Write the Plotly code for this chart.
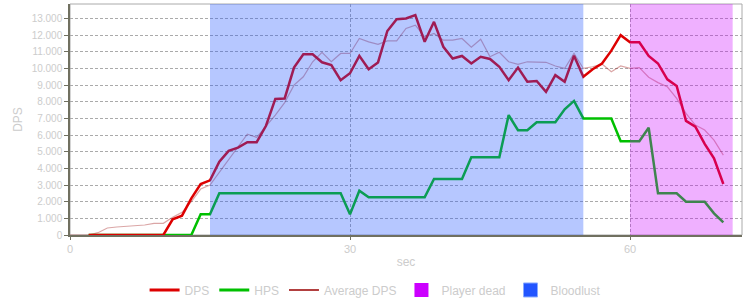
import plotly.graph_objects as go

# time axis (seconds)
t_avg = list(range(0, 71))
t_main = list(range(2, 71))

dps = [0, 0, 0, 0, 0, 0, 0, 0, 0,
       940, 1160, 2200, 3060, 3280, 4400, 5050, 5250, 5570, 5570,
       6560, 8170, 8200, 10050, 10850, 10850, 10370, 10200, 9290, 9710,
       10760, 9950, 10360, 12250, 12950, 13000, 13200, 11600, 12800, 11300,
       10600, 10750, 10300, 10700, 10570, 10100, 9300, 10050, 9200, 9250,
       8600, 9600, 9200, 10770, 9500, 9950, 10300, 11070, 12000, 11570,
       11570, 10750, 10300, 9350, 8950, 6850, 6500, 5470, 4600, 3060]

hps = [0] * 12 + [1250, 1250] + [2500] * 14 + [1240, 2660] + [2260] * 7 + \
      [3360] * 4 + [4670] * 4 + [7200, 6290, 6290, 6770, 6770, 6770, 7550, 8050,
      7000, 7000, 7000, 7000, 5630, 5630, 5630, 6440, 2500, 2500, 2500,
      2000, 2000, 2000, 1300, 760]

avg_dps = [0, 0, 0, 140, 420, 480, 520, 540, 600, 700, 700,
           1060, 1360, 2000, 2760, 3000, 3750, 4500, 5300, 6050, 5860,
           6500, 7200, 7950, 9000, 9500, 10400, 10970, 10400, 10900, 10900,
           11800, 11600, 11450, 11650, 11650, 12400, 12600, 11900, 12100, 11700,
           11700, 11800, 11270, 11750, 10700, 10970, 10400, 10250, 10400, 10370,
           10370, 10150, 10000, 10900, 10000, 10100, 10270, 9800, 10150, 10000,
           10050, 9470, 9150, 8900, 8200, 7300, 6600, 6300, 5700, 4800]

bloodlust = (15, 55)
player_dead = (60, 71)

x_ticks = [0, 30, 60]

grey = "#cccccc"
font = "Liberation Sans, Arial, sans-serif"

fig = go.Figure()

fig.add_trace(go.Scatter(x=t_avg, y=avg_dps, mode="lines", showlegend=False,
                         line=dict(color="rgba(153,0,0,0.35)", width=1.2)))
fig.add_trace(go.Scatter(x=t_main, y=hps, mode="lines", showlegend=False,
                         line=dict(color="#00c000", width=2.5)))
fig.add_trace(go.Scatter(x=t_main, y=dps, mode="lines", showlegend=False,
                         line=dict(color="#dd0000", width=2.5)))

# legend entries
fig.add_trace(go.Scatter(x=[None], y=[None], mode="lines", name="DPS",
                         line=dict(color="#dd0000", width=3)))
fig.add_trace(go.Scatter(x=[None], y=[None], mode="lines", name="HPS",
                         line=dict(color="#00c000", width=3)))
fig.add_trace(go.Scatter(x=[None], y=[None], mode="lines", name="Average DPS",
                         line=dict(color="#990000", width=1.5)))
fig.add_trace(go.Scatter(x=[None], y=[None], mode="markers", name="Player dead",
                         marker=dict(symbol="square", size=14, color="#cc00ff",
                                     line=dict(width=0))))
fig.add_trace(go.Scatter(x=[None], y=[None], mode="markers", name="Bloodlust",
                         marker=dict(symbol="square", size=14, color="#2255ff",
                                     line=dict(width=1, color="#88aaff"))))

fig.add_shape(type="rect", xref="x", yref="paper", x0=bloodlust[0], x1=bloodlust[1],
              y0=0, y1=1, fillcolor="rgba(34,85,255,0.33)", line=dict(width=0),
              layer="above")
fig.add_shape(type="rect", xref="x", yref="paper", x0=player_dead[0], x1=player_dead[1],
              y0=0, y1=1, fillcolor="rgba(204,0,255,0.31)", line=dict(width=0),
              layer="above")
fig.add_shape(type="rect", xref="paper", yref="paper", x0=0, x1=1, y0=0, y1=1,
              line=dict(color="#aaaaaa", width=1), layer="below")

fig.update_layout(
    width=750, height=300,
    margin=dict(l=70, r=8, t=4, b=65, autoexpand=False),
    paper_bgcolor="white", plot_bgcolor="white",
    separators=",.",
    font=dict(family=font, color=grey, size=12),
    showlegend=True,
    legend=dict(orientation="h", x=0.454, xanchor="center", y=-0.238,
                yanchor="middle", font=dict(size=12, color=grey),
                bgcolor="rgba(0,0,0,0)", itemwidth=30, tracegroupgap=0),
)
fig.update_xaxes(range=[0, 72], tickvals=x_ticks, showgrid=True,
                 gridcolor="#aaaaaa", griddash="3px,2px", gridwidth=1,
                 zeroline=False, showline=True, linecolor="#707060", linewidth=1.5,
                 ticks="outside", ticklen=3, tickcolor="#707060", automargin=False,
                 tickfont=dict(size=11, color=grey),
                 title=dict(text="sec", font=dict(size=12, color=grey), standoff=4))
fig.update_yaxes(range=[0, 13870], dtick=1000, tick0=0, tickformat=",d",
                 showgrid=True, gridcolor="#aaaaaa", griddash="3px,2px", gridwidth=1,
                 zeroline=False, showline=True, linecolor="#707060", linewidth=1.5,
                 ticks="outside", ticklen=4, tickcolor="#707060", automargin=False,
                 tickfont=dict(size=10, color=grey),
                 title=dict(text="DPS", font=dict(size=12, color=grey), standoff=6))

fig.write_html("out.html")
